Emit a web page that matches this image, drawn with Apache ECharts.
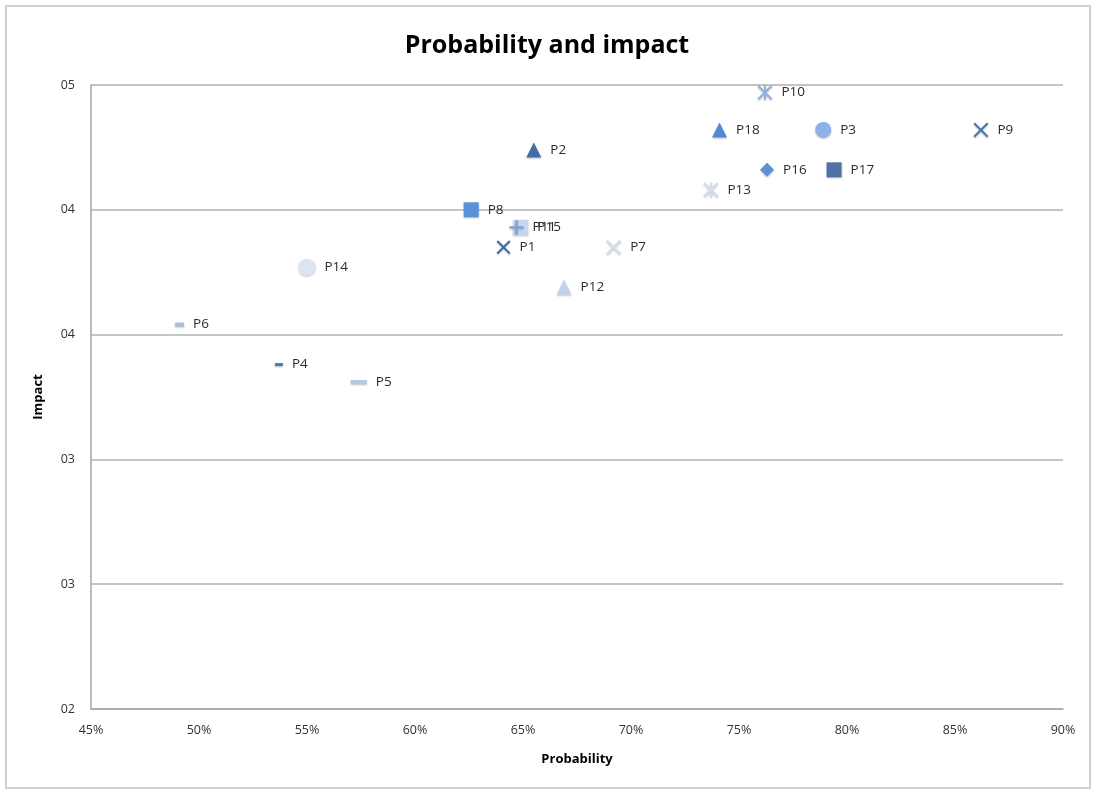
<!DOCTYPE html>
<html>
<head>
<meta charset="utf-8">
<script src="https://cdn.jsdelivr.net/npm/echarts@6/dist/echarts.min.js"></script>
<style>
  html, body { margin: 0; padding: 0; background: #ffffff; }
  #chart { width: 1094px; height: 791px; }
</style>
</head>
<body>
<div id="chart"></div>
<script>
// ---- data ----
var names = ['P1','P2','P3','P4','P5','P6','P7','P8','P9','P10','P11','P12','P13','P14','P15','P16','P17','P18'];
var probability = [64.1, 65.5, 78.9, 53.7, 57.4, 49.1, 69.2, 62.6, 86.2, 76.2, 64.7, 66.9, 73.7, 55.0, 64.9, 76.3, 79.4, 74.1];
var impact = [3.85, 4.24, 4.32, 3.38, 3.31, 3.54, 3.85, 4.00, 4.32, 4.47, 3.93, 3.69, 4.08, 3.77, 3.93, 4.16, 4.16, 4.32];
var xTicks = { min: 45, max: 90, interval: 5 };
var yTicks = { min: 2, max: 4.5, interval: 0.5 };

// ---- marker styles ----
var X_PATH = 'path://M0,1L1,0L5,4L9,0L10,1L6,5L10,9L9,10L5,6L1,10L0,9L4,5Z';
var STAR_PATH = 'path://M0,1L1,0L5,4L9,0L10,1L6,5L10,9L9,10L5,6L1,10L0,9L4,5ZM4.4,0L5.6,0L5.6,10L4.4,10Z';
var PLUS_PATH = 'path://M4.2,0L5.8,0L5.8,4.2L10,4.2L10,5.8L5.8,5.8L5.8,10L4.2,10L4.2,5.8L0,5.8L0,4.2L4.2,4.2Z';
var styles = {
  P1:  { symbol: X_PATH, size: 14, color: '#3d6ca3', z: 2 },
  P2:  { symbol: 'triangle', size: 15, color: '#3f6ea6', z: 2 },
  P3:  { symbol: 'circle', size: 16, color: '#8db2e6', z: 2 },
  P4:  { symbol: 'rect', size: [8, 3], color: '#4a7cbc', z: 2 },
  P5:  { symbol: 'rect', size: [16, 4], color: '#b4c9e6', z: 2 },
  P6:  { symbol: 'rect', size: [9, 4], color: '#a9bddb', z: 2 },
  P7:  { symbol: X_PATH, size: 15, color: '#d3deee', z: 2 },
  P8:  { symbol: 'rect', size: 15, color: '#5a92d9', z: 2 },
  P9:  { symbol: X_PATH, size: 15, color: '#4a78b4', z: 2 },
  P10: { symbol: STAR_PATH, size: 15, color: '#8fb1dc', z: 2 },
  P11: { symbol: PLUS_PATH, size: 14, color: '#7fa3d6', z: 4 },
  P12: { symbol: 'triangle', size: 15, color: '#c3d3ec', z: 2 },
  P13: { symbol: STAR_PATH, size: 15, color: '#d3deee', z: 2 },
  P14: { symbol: 'circle', size: 17, color: '#dbe5f4', z: 2 },
  P15: { symbol: 'rect', size: 15, color: '#c5d7f0', z: 3 },
  P16: { symbol: 'diamond', size: 14, color: '#5b90d3', z: 2 },
  P17: { symbol: 'rect', size: 15, color: '#4f72a6', z: 2 },
  P18: { symbol: 'triangle', size: 15, color: '#4e8ad6', z: 2 }
};

var FONT = '"Open Sans", Lato, sans-serif';

var series = names.map(function (n, i) {
  var s = styles[n];
  return {
    name: n,
    type: 'scatter',
    z: s.z,
    symbol: s.symbol,
    symbolSize: s.size,
    itemStyle: {
      color: s.color,
      opacity: 1,
      shadowColor: 'rgba(0,0,0,0.25)',
      shadowBlur: 2,
      shadowOffsetY: 1
    },
    label: {
      show: true,
      position: 'right',
      distance: 9,
      formatter: n,
      color: '#2b2b2b',
      fontSize: 13.5,
      fontFamily: FONT
    },
    emphasis: { disabled: true },
    data: [[probability[i], impact[i]]]
  };
});

var chart = echarts.init(document.getElementById('chart'), null, { renderer: 'canvas' });
chart.setOption({
  animation: false,
  backgroundColor: '#ffffff',
  title: {
    text: 'Probability and impact',
    left: 'center',
    top: 28,
    textStyle: { fontSize: 25, fontWeight: 'bold', color: '#000000', fontFamily: FONT }
  },
  graphic: [{
    type: 'rect',
    shape: { x: 6, y: 6, width: 1084, height: 782 },
    style: { fill: 'none', stroke: '#d0d0d0', lineWidth: 2 },
    silent: true
  }],
  grid: { left: 91, right: 31, top: 85, bottom: 82 },
  xAxis: {
    type: 'value',
    min: xTicks.min, max: xTicks.max, interval: xTicks.interval,
    name: 'Probability',
    nameLocation: 'middle',
    nameGap: 44,
    nameTextStyle: { fontWeight: 'bold', fontSize: 13, color: '#000', fontFamily: FONT },
    axisLine: { show: true, onZero: false, lineStyle: { color: '#a6a6a6', width: 1.5 } },
    axisTick: { show: false },
    splitLine: { show: false },
    axisLabel: {
      color: '#333', fontSize: 12.5, fontFamily: FONT, margin: 15,
      formatter: function (v) { return Math.round(v) + '%'; }
    }
  },
  yAxis: {
    type: 'value',
    min: yTicks.min, max: yTicks.max, interval: yTicks.interval,
    name: 'Impact',
    nameLocation: 'middle',
    nameGap: 46,
    nameRotate: 90,
    nameTextStyle: { fontWeight: 'bold', fontSize: 13, color: '#000', fontFamily: FONT },
    axisLine: { show: true, lineStyle: { color: '#a6a6a6', width: 1.5 } },
    axisTick: { show: false },
    splitLine: { show: true, lineStyle: { color: '#c4c4c4', width: 2 } },
    axisLabel: {
      color: '#333', fontSize: 12.5, fontFamily: FONT, margin: 16,
      formatter: function (v) { return '0' + Math.round(v); }
    }
  },
  series: series
});
</script>
</body>
</html>
